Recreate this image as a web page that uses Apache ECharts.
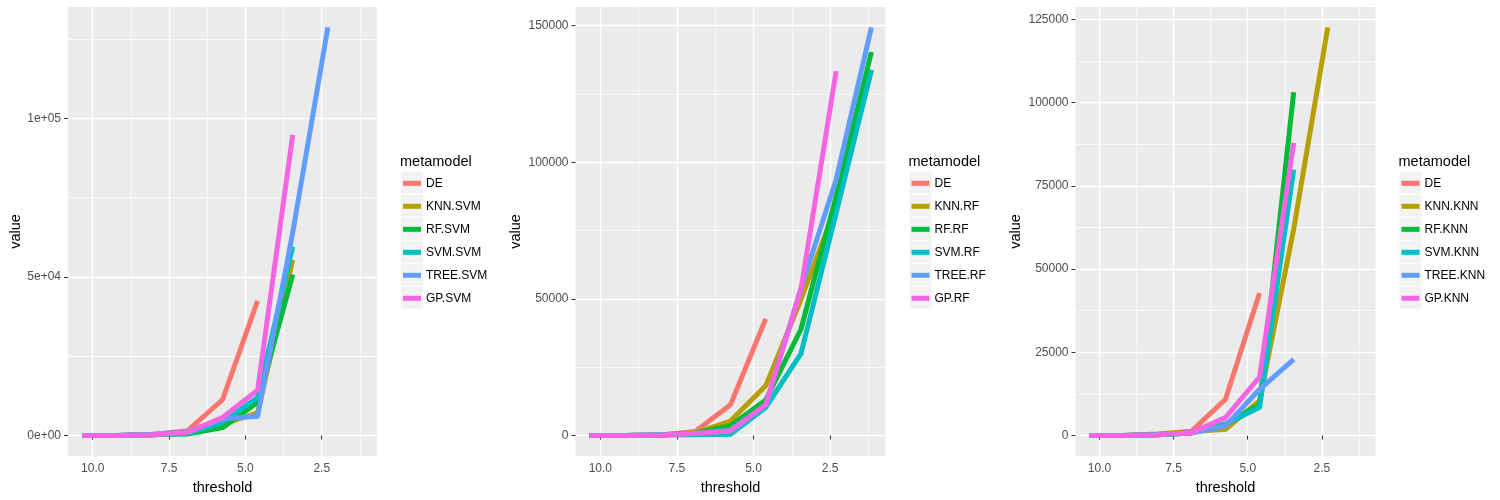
<!DOCTYPE html>
<html>
<head>
<meta charset="utf-8">
<title>metamodel threshold</title>
<script src="https://cdn.jsdelivr.net/npm/echarts@6/dist/echarts.min.js"></script>
</head>
<body style="margin:0;background:#fff">
<div id="main" style="width:1500px;height:500px;"></div>
<script type="text/javascript">
// thresholds, same for the three plots
var thresholds = [10.35, 9.2, 8.05, 6.9, 5.75, 4.6, 3.45, 2.3, 1.15];

// plot 1 : *.SVM
var svmNames = ['DE', 'KNN.SVM', 'RF.SVM', 'SVM.SVM', 'TREE.SVM', 'GP.SVM'];
var svmDE   = [10, 60, 250, 1500, 11300, 42500, null, null, null];
var svmKNN  = [10, 60, 250, 700, 3600, 7200, 55400, null, null];
var svmRF   = [10, 60, 250, 500, 2500, 10500, 50800, null, null];
var svmSVM  = [10, 60, 250, 800, 4200, 12000, 59600, null, null];
var svmTREE = [10, 60, 400, 1200, 5200, 6100, 64000, 128700, null];
var svmGP   = [10, 60, 250, 1000, 5700, 14300, 94800, null, null];

// plot 2 : *.RF
var rfNames = ['DE', 'KNN.RF', 'RF.RF', 'SVM.RF', 'TREE.RF', 'GP.RF'];
var rfDE   = [10, 60, 250, 1500, 11300, 42700, null, null, null];
var rfKNN  = [10, 60, 250, 1000, 5300, 18200, 49800, 84000, 133900];
var rfRF   = [10, 60, 250, 900, 3600, 13000, 38900, 87600, 140300];
var rfSVM  = [10, 60, 250, 300, 500, 10300, 30000, 81500, 133600];
var rfTREE = [10, 60, 250, 800, 2000, 11200, 53800, 93700, 149300];
var rfGP   = [10, 60, 250, 800, 1700, 11300, 53500, 133300, null];

// plot 3 : *.KNN
var knnNames = ['DE', 'KNN.KNN', 'RF.KNN', 'SVM.KNN', 'TREE.KNN', 'GP.KNN'];
var knnDE   = [10, 60, 250, 1300, 10900, 42800, null, null, null];
var knnKNN  = [10, 60, 500, 1200, 1900, 10500, 62000, 122600, null];
var knnRF   = [10, 60, 250, 800, 3400, 9300, 103100, null, null];
var knnSVM  = [10, 60, 250, 800, 3400, 8500, 79900, null, null];
var knnTREE = [10, 60, 250, 800, 2900, 13900, 22900, null, null];
var knnGP   = [10, 60, 250, 900, 5400, 17600, 87900, null, null];

// tick labels
var xMajor = [2.5, 5, 7.5, 10];
var xMinor = [1.25, 3.75, 6.25, 8.75];
var svmYMajor = [0, 50000, 100000];
var svmYMinor = [25000, 75000, 125000];
var rfYMajor = [0, 50000, 100000, 150000];
var rfYMinor = [25000, 75000, 125000];
var knnYMajor = [0, 25000, 50000, 75000, 100000, 125000];
var knnYMinor = [12500, 37500, 62500, 87500, 112500];

var colors = ['#F8766D', '#B79F00', '#00BA38', '#00BFC4', '#619CFF', '#F564E3'];

function sci(v) {
    if (v === 0) return '0e+00';
    var e = Math.floor(Math.log10(v));
    var m = Math.round(v / Math.pow(10, e));
    return m + 'e+' + (e < 10 ? '0' : '') + e;
}
function plain(v) { return String(v); }

var panels = [
    {names: svmNames, vals: [svmDE, svmKNN, svmRF, svmSVM, svmTREE, svmGP],
     yMajor: svmYMajor, yMinor: svmYMinor, fmt: sci, left: 68, width: 309, nameGap: 45},
    {names: rfNames, vals: [rfDE, rfKNN, rfRF, rfSVM, rfTREE, rfGP],
     yMajor: rfYMajor, yMinor: rfYMinor, fmt: plain, left: 575.5, width: 310, nameGap: 52},
    {names: knnNames, vals: [knnDE, knnKNN, knnRF, knnSVM, knnTREE, knnGP],
     yMajor: knnYMajor, yMinor: knnYMinor, fmt: plain, left: 1075.5, width: 300, nameGap: 52}
];

var font = "'Liberation Sans', Arial, sans-serif";
var option = {
    animation: false,
    textStyle: {fontFamily: font},
    grid: [], xAxis: [], yAxis: [], series: [], legend: [], title: [], graphic: []
};

// ggplot style expansion: 5% on both sides
var xMin = 1.15 - 0.05 * (10.35 - 1.15);
var xMax = 10.35 + 0.05 * (10.35 - 1.15);

panels.forEach(function (p, i) {
    var top = 0;
    p.vals.forEach(function (arr) {
        arr.forEach(function (v) { if (v !== null && v > top) top = v; });
    });
    var yMin = -0.05 * top, yMax = 1.05 * top;

    option.grid.push({left: p.left, top: 7, width: p.width, height: 449,
        show: true, backgroundColor: '#EBEBEB', borderWidth: 0});

    // major x axis (labels, ticks, major grid)
    option.xAxis.push({
        gridIndex: i, type: 'value', inverse: true, min: xMin, max: xMax,
        axisLine: {show: false},
        axisTick: {customValues: xMajor, length: 4, lineStyle: {color: '#333333'}},
        axisLabel: {customValues: xMajor, formatter: function (v) { return v.toFixed(1); },
            color: '#4D4D4D', fontSize: 12, margin: 7},
        splitLine: {lineStyle: {color: '#FFFFFF', width: 1.4}},
        name: 'threshold', nameLocation: 'middle', nameGap: 24,
        nameTextStyle: {color: '#000000', fontSize: 14.5}
    });
    // minor x grid
    option.xAxis.push({
        gridIndex: i, type: 'value', inverse: true, min: xMin, max: xMax,
        axisLine: {show: false},
        axisTick: {show: false, customValues: xMinor},
        axisLabel: {show: false},
        splitLine: {lineStyle: {color: '#FFFFFF', width: 0.7}}
    });
    option.yAxis.push({
        gridIndex: i, type: 'value', min: yMin, max: yMax,
        axisLine: {show: false},
        axisTick: {customValues: p.yMajor, length: 4, lineStyle: {color: '#333333'}},
        axisLabel: {customValues: p.yMajor, formatter: p.fmt,
            color: '#4D4D4D', fontSize: 12, margin: 7},
        splitLine: {lineStyle: {color: '#FFFFFF', width: 1.4}},
        name: 'value', nameLocation: 'middle', nameGap: p.nameGap,
        nameTextStyle: {color: '#000000', fontSize: 14.5}
    });
    option.yAxis.push({
        gridIndex: i, type: 'value', min: yMin, max: yMax,
        axisLine: {show: false},
        axisTick: {show: false, customValues: p.yMinor},
        axisLabel: {show: false},
        splitLine: {lineStyle: {color: '#FFFFFF', width: 0.7}}
    });

    p.names.forEach(function (name, j) {
        var data = [];
        thresholds.forEach(function (t, k) {
            if (p.vals[j][k] !== null) data.push([t, p.vals[j][k]]);
        });
        option.series.push({
            type: 'line', name: name, xAxisIndex: 2 * i, yAxisIndex: 2 * i,
            data: data, symbol: 'none', showSymbol: false, silent: true,
            itemStyle: {color: colors[j]},
            lineStyle: {color: colors[j], width: 5, join: 'round', cap: 'butt'}
        });
    });

    // legend at right side of each plot
    var keyLeft = p.left + p.width + 24;
    option.title.push({
        text: 'metamodel', left: keyLeft - 1, top: 154, padding: 0,
        textStyle: {fontSize: 14.5, fontWeight: 'normal', color: '#000000', fontFamily: font}
    });
    for (var k = 0; k < p.names.length; k++) {
        option.graphic.push({type: 'rect', left: keyLeft, top: 171.7 + 23 * k, z: 0,
            shape: {width: 22, height: 22}, style: {fill: '#F2F2F2'}});
    }
    option.legend.push({
        data: p.names, orient: 'vertical', left: keyLeft + 2, top: 171.8, padding: 0,
        itemWidth: 18, itemHeight: 5, itemGap: 0, icon: 'rect', selectedMode: false,
        textStyle: {fontSize: 12, color: '#000000', lineHeight: 23}
    });
});

var myChart = echarts.init(document.getElementById('main'));
myChart.setOption(option);
</script>
</body>
</html>
